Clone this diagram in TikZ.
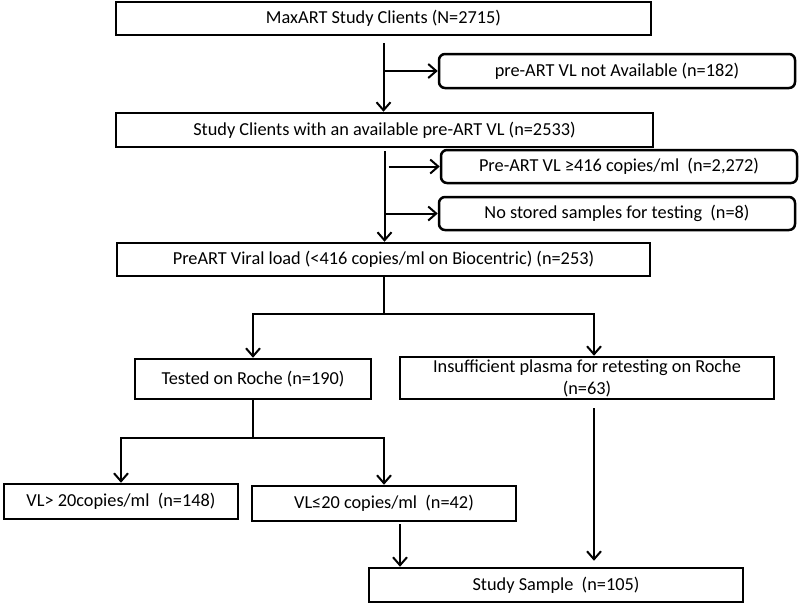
\documentclass[tikz,border=0pt]{standalone}
\usepackage{fontspec}
\setmainfont{Carlito}
\usetikzlibrary{arrows.meta,calc}

\begin{document}
\begin{tikzpicture}[x=1pt,y=-1pt,
  box/.style={draw,line width=2.5pt,inner sep=0pt,minimum height=33pt,
    font=\fontsize{18.3}{22}\selectfont},
  rbox/.style={box,rounded corners=6pt},
  arr/.style={line width=2pt,-{Straight Barb[length=8pt,width=14pt,line width=2pt]}}]
  \useasboundingbox (0,0) rectangle (800,606);
  % main column
  \node[box,minimum width=535pt] (clients) at (383.5,18.5) {MaxART Study Clients (N=2715)};
  \node[box,minimum width=537pt,minimum height=34pt] (avail) at (384.5,130)
    {Study Clients with an available pre-ART VL (n=2533)};
  \node[box,minimum width=533pt] (low) at (383.5,259.5)
    {PreART Viral load (<416 copies/ml on Biocentric) (n=253)};
  % exclusions
  \node[rbox,minimum width=356pt,minimum height=34pt] (noVL) at (617,71)
    {pre-ART VL not Available (n=182)};
  \node[rbox,minimum width=356pt] (highVL) at (619,166.5)
    {Pre-ART VL ≥416 copies/ml~ (n=2,272)};
  \node[rbox,minimum width=356pt] (nostore) at (617,213.5)
    {No stored samples for testing~ (n=8)};
  % retesting
  \node[box,minimum width=236pt,minimum height=40pt] (roche) at (253,379)
    {Tested on Roche (n=190)};
  \node[box,minimum width=374pt,minimum height=42pt,align=center] (insuff) at (587,378)
    {Insufficient plasma for retesting on Roche\\(n=63)};
  \node[box,minimum width=234pt,minimum height=35pt] (vlhi) at (121,501.5)
    {VL> 20copies/ml~ (n=148)};
  \node[box,minimum width=264pt,minimum height=35pt] (vllo) at (384,503.5)
    {VL≤20 copies/ml~ (n=42)};
  \node[box,minimum width=374pt,minimum height=34pt] (sample) at (556,585)
    {Study Sample~ (n=105)};

  \draw[arr,shorten <=7pt] (clients.south) -- (clients.south |- avail.north);
  \draw[arr] (clients.south |- noVL.west) -- (noVL.west);
  \draw[arr,shorten <=3pt] (avail.south) -- (avail.south |- low.north);
  \draw[arr] ([xshift=4pt]avail.south |- highVL.west) -- (highVL.west);
  \draw[arr] (avail.south |- nostore.west) -- (nostore.west);

  \coordinate (split1) at ($(low.south)+(0,37)$);
  \draw[line width=2pt] (low.south) -- (split1);
  \draw[arr] (split1) -| (roche.north);
  \draw[arr] (split1) -| ([xshift=7pt]insuff.north);

  \coordinate (split2) at ($(roche.south)+(0,38)$);
  \draw[line width=2pt] (roche.south) -- (split2);
  \draw[arr] (split2) -| (vlhi.north);
  \draw[arr] (split2) -| (vllo.north);

  \draw[arr,shorten <=2pt] ([xshift=16pt]vllo.south) -- ([xshift=16pt]vllo.south |- sample.north);
  \draw[arr,shorten <=8pt,shorten >=6pt] ([xshift=7pt]insuff.south)
    -- ([xshift=7pt]insuff.south |- sample.north);
\end{tikzpicture}
\end{document}
